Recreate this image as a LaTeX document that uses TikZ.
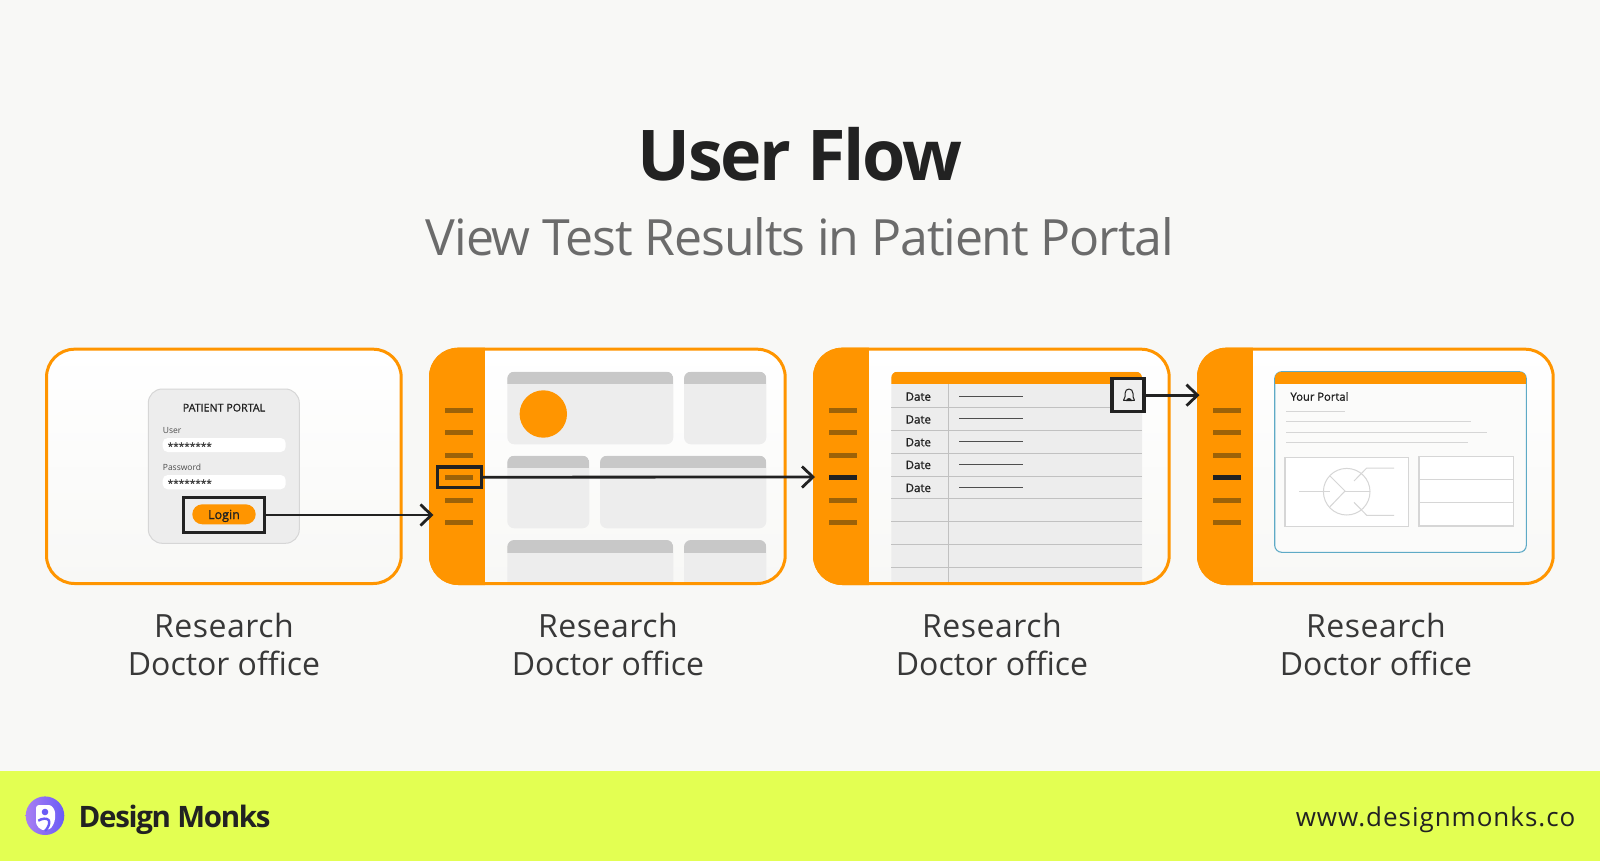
\documentclass[tikz,border=0pt]{standalone}
\usepackage{fontspec}
\setmainfont{Open Sans}
\usetikzlibrary{arrows.meta}
\definecolor{bgc}{HTML}{F8F8F6}
\definecolor{lime}{HTML}{E3FF52}
\definecolor{org}{HTML}{FF9500}
\definecolor{barc}{HTML}{9C6208}
\definecolor{ink}{HTML}{222222}
\definecolor{pan}{HTML}{EDEDED}
\definecolor{hdr}{HTML}{C8C8C8}
\definecolor{ruleg}{HTML}{D6D6D6}
\definecolor{sky}{HTML}{5EAAC6}
\definecolor{logoa}{HTML}{A97FF2}
\definecolor{logob}{HTML}{6A5CF6}
\tikzset{
  x=1pt,y=-1pt,
  txt/.style={inner sep=0pt,anchor=base},
  txtl/.style={inner sep=0pt,anchor=base west},
  captxt/.style={txt,font=\fontsize{32}{32}\selectfont,text=ink!90!white},
  hilite/.style={draw=ink,line width=3.4pt,inner sep=0pt,minimum width=#1},
  flow/.style={draw=ink,line width=2.8pt,-{Straight Barb[length=11pt,width=21pt,line width=2.8pt]}},
  navbar/.style={fill=barc,inner sep=0pt,minimum width=27.5pt,minimum height=5pt},
  hair/.style={draw=ruleg,line width=1pt},
  sketch/.style={draw=ruleg,line width=1.2pt},
  rowline/.style={draw=ruleg!90!black,line width=.9pt},
  dashline/.style={draw=ink!80!white,line width=1pt},
}
\newcommand{\semib}{\addfontfeature{FakeBold=1.2}}
\newcommand{\uxpanel}[4]{%
  \fill[pan,rounded corners=7pt] (#1,#2) rectangle (#3,#4);
  \begin{scope}
    \clip[rounded corners=7pt] (#1,#2) rectangle (#3,#4);
    \fill[hdr] (#1,#2) rectangle (#3,#2+12.6);
  \end{scope}}
\newcommand{\uxcard}[1]{%
  \shade[top color=white,bottom color=bgc,rounded corners=28pt] (#1+1.5,349.2) rectangle (#1+356.2,583.5);}
\newcommand{\uxside}[1]{%
  \begin{scope}
    \clip[rounded corners=29pt] (#1,347.7) rectangle (#1+357.7,585);
    \fill[org] (#1-2,347) rectangle (#1+56,586);
  \end{scope}}
\newcommand{\uxedge}[1]{%
  \draw[org,line width=3pt,rounded corners=28pt] (#1+1.5,349.2) rectangle (#1+356.2,583.5);}
\begin{document}
\begin{tikzpicture}
\useasboundingbox (0,0) rectangle (1600,861);
\fill[bgc] (0,0) rectangle (1600,861);
\fill[lime] (0,771) rectangle (1600,860.5);

% titles
\node[txt,font=\fontsize{70}{70}\selectfont\bfseries\addfontfeature{LetterSpace=-3.2},text=ink] (title) at (800,180.5) {User Flow};
\node[txt,font=\fontsize{50}{50}\selectfont\addfontfeature{LetterSpace=-2.3},text=black!58] (subtitle) at (800,255) {View Test Results in Patient Portal};

% cards
\uxcard{45}\uxcard{429}\uxcard{813}\uxcard{1197}
\uxside{429}\uxside{813}\uxside{1197}

% card 1
\draw[draw=ruleg,fill=pan,line width=1pt,rounded corners=14pt] (148.3,389) rectangle (299.3,543.3);
\node[txt,font=\fontsize{10.7}{10.7}\selectfont\semib,text=ink] (pp) at (224,411.5) {PATIENT PORTAL};
\node[txtl,font=\fontsize{8.5}{8.5}\selectfont,text=black!70] (user) at (162.7,433) {User};
\fill[white,rounded corners=5pt] (162.7,438) rectangle (285.7,452);
\node[txtl,font=\fontsize{10}{10}\selectfont\semib,text=black!75] (st1) at (167.5,450) {********};
\node[txtl,font=\fontsize{8.5}{8.5}\selectfont,text=black!70] (pw) at (162.7,470) {Password};
\fill[white,rounded corners=5pt] (162.7,475) rectangle (285.7,489.3);
\node[txtl,font=\fontsize{10}{10}\selectfont\semib,text=black!75] (st2) at (167.5,487) {********};
\fill[org,rounded corners=10pt] (192.3,504.3) rectangle (255.7,524.3);
\node[txt,font=\fontsize{12.5}{12.5}\selectfont\semib,text=ink] (login) at (224,519) {Login};
\node[hilite=81pt,minimum height=35pt] (loginbox) at (224.2,515) {};

% card 2
\uxpanel{507.3}{371.7}{673.3}{444.3}
\uxpanel{684}{371.7}{766.3}{444.3}
\uxpanel{507.3}{455.7}{589.3}{528.3}
\uxpanel{600}{455.7}{766.3}{528.3}
\begin{scope}
  \clip (485,540) rectangle (785,582.5);
  \uxpanel{507.3}{540}{673.3}{612}
  \uxpanel{684}{540}{766.3}{612}
\end{scope}
\fill[org] (543.3,414) circle (23.7);

% card 3
\begin{scope}
  \clip (869,349) rectangle (1170,582.5);
  \fill[pan,rounded corners=6pt] (891.3,371.7) rectangle (1142,600);
  \begin{scope}
    \clip[rounded corners=6pt] (891.3,371.7) rectangle (1142,600);
    \fill[org] (891.3,371.7) rectangle (1142,384.3);
  \end{scope}
  \foreach \yy in {407.3,430,453,476,498.7,521.3,544.3,567}
    \draw[rowline] (891.3,\yy) -- (1142,\yy);
  \draw[rowline] (948.7,384.3) -- (948.7,590);
\end{scope}
\foreach \yy/\ly [count=\n] in {400.7/396,423.5/418.7,446.3/441.7,469/464,492/487}{
  \node[txt,font=\fontsize{11.5}{11.5}\selectfont\semib,text=ink] (date\n) at (918.3,\yy) {Date};
  \draw[dashline] (959.3,\ly) -- (1023.3,\ly);
}
\node[hilite=32pt,minimum height=33pt,fill=pan!90!white] (bellbox) at (1128,395.2) {};
\draw[ink,line width=1pt,line join=round] (1123.5,400.3) .. controls (1125.5,398) and (1125,395.5) .. (1125,393.5)
  .. controls (1125,387.5) and (1133,387.5) .. (1133,393.5) .. controls (1133,395.5) and (1132.5,398) .. (1134.5,400.3) -- cycle;
\fill[ink] (1126,401) arc[start angle=180,end angle=360,radius=3] -- cycle;

% card 4
\draw[sky,fill=bgc!50!white,line width=1.1pt,rounded corners=7pt] (1274.7,371.7) rectangle (1526.3,552.3);
\begin{scope}
  \clip[rounded corners=7pt] (1274.7,371.7) rectangle (1526.3,552.3);
  \fill[org] (1274.7,371.7) rectangle (1526.3,384.3);
\end{scope}
\node[txtl,font=\fontsize{11.2}{11.2}\selectfont\semib,text=ink] (yp) at (1290.3,400.7) {Your Portal};
\draw[hair] (1286,411) -- (1345,411);
\draw[hair] (1286,421.7) -- (1470.7,421.7);
\draw[hair] (1286,432.3) -- (1487.3,432.3);
\draw[hair] (1286,442.7) -- (1467.7,442.7);
\draw[sketch,fill=white] (1285,457.3) rectangle (1408.7,526.3);
\draw[sketch,fill=white] (1419,456.7) rectangle (1513.7,526);
\draw[sketch] (1419,479.7) -- (1513.7,479.7);
\draw[sketch] (1419,502.7) -- (1513.7,502.7);
\draw[hair] (1346.7,491.7) circle (23.3);
\draw[hair] (1299.3,491.7) -- (1330,491.7);
\draw[hair] (1330,476) -- (1345,491) -- (1330,506.7);
\draw[hair] (1345,491) -- (1370,491);
\draw[hair] (1354,481) -- (1366.7,468) -- (1394,468);
\draw[hair] (1354,502.3) -- (1366.7,515.3) -- (1394,515.3);

% clean rim and bars
\uxedge{45}\uxedge{429}\uxedge{813}\uxedge{1197}
\foreach \cx/\cn in {458.75/a,842.75/b,1226.75/c}
  \foreach \by [count=\i] in {410.3,432.7,455,477.5,500,522}
    \node[navbar] (bar\cn\i) at (\cx,\by) {};
\node[navbar,fill=ink] (barb4x) at (842.75,477.5) {};
\node[navbar,fill=ink] (barc4x) at (1226.75,477.5) {};
\node[hilite=43.5pt,minimum height=20.5pt] (navbox) at (459.5,477.2) {};

% flow
\coordinate (end1) at (433.5,515);
\coordinate (end2) at (815,477);
\coordinate (end3) at (1199.5,395.2);
\draw[flow] (loginbox.east) -- (end1);
\draw[flow] (navbox.east) -- (end2);
\draw[flow] (bellbox.east) -- (end3);

% captions
\foreach \cx [count=\i] in {224,608,992,1376}{
  \node[captxt,font=\fontsize{32}{32}\selectfont\addfontfeature{LetterSpace=1.6}] (capa\i) at (\cx,637) {Research};
  \node[captxt] (capb\i) at (\cx,675) {Doctor office};
}

% footer
\shade[left color=logoa,right color=logob] (45,815.7) circle (19.3);
\fill[white,rounded corners=3pt] (36,805) -- (46,805) .. controls (52,805) and (55,810) .. (55,815.5)
  .. controls (55,822) and (52,828) .. (47,830) -- (42,830.5) -- (36,825) -- cycle;
\fill[logob] (45,812) circle (3.3);
\draw[logob,line width=2.4pt] (38.3,820.7) .. controls (42,818.5) and (47,817.5) .. (49,820.5) .. controls (50,824) and (48,828) .. (45,831);
\node[txtl,font=\fontsize{29.5}{29.5}\selectfont\bfseries\addfontfeature{LetterSpace=-4.5},text=ink] (brand) at (78.5,827) {Design Monks};
\node[inner sep=0pt,anchor=base east,font=\fontsize{26}{26}\selectfont\addfontfeature{LetterSpace=3.7},text=ink] (url) at (1575.5,826.5) {www.designmonks.co};
\end{tikzpicture}
\end{document}
